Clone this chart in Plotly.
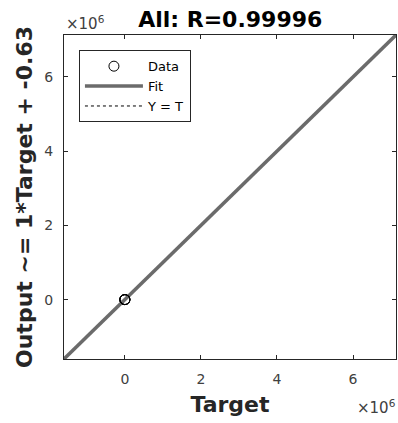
import plotly.graph_objects as go

# Network outputs against targets (all samples sit near the origin)
targets = [0.0, 1500.0, -800.0, 2600.0, 400.0]
outputs = [0.0, 1499.4, -800.6, 2599.4, 399.4]

# Linear fit Output ~= slope*Target + offset
fit_slope = 1.0
fit_offset = -0.63
r_value = 0.99996

# Shared axis limits for target and output
axis_lim = [-1.6e6, 7.13e6]
tick_vals = [0, 2e6, 4e6, 6e6]
tick_text = ["0", "2", "4", "6"]

FONT = "DejaVu Sans"
TXT = "#262626"
TICK_TXT = "#404040"
LINE_GRAY = "#6b6b6b"

fit_x = axis_lim
fit_y = [fit_slope * v + fit_offset for v in fit_x]

fig = go.Figure()

fig.add_trace(go.Scatter(
    x=axis_lim, y=axis_lim, mode="lines", name="Y = T",
    line=dict(color="black", width=1, dash="dot"), legendrank=3,
))
fig.add_trace(go.Scatter(
    x=fit_x, y=fit_y, mode="lines", name="Fit",
    line=dict(color=LINE_GRAY, width=3.5), legendrank=2,
))
fig.add_trace(go.Scatter(
    x=targets, y=outputs, mode="markers", name="Data",
    marker=dict(symbol="circle-open", size=10, color="black",
                line=dict(width=1, color="black")),
    legendrank=1,
))

axis_common = dict(
    range=axis_lim, tickvals=tick_vals, ticktext=tick_text,
    ticks="inside", ticklen=4, tickcolor=TXT, tickwidth=1,
    showline=True, linecolor=TXT, linewidth=1, mirror="ticks",
    showgrid=False, zeroline=False, ticklabelstandoff=7,
    tickfont=dict(family=FONT, size=14, color=TICK_TXT),
)

fig.update_layout(
    width=398, height=423,
    margin=dict(l=64, r=2, t=35, b=64),
    plot_bgcolor="white", paper_bgcolor="white",
    showlegend=True,
    title=dict(text=f"<b>All: R={r_value}</b>", x=0.5785, xanchor="center",
               y=0.955, yanchor="middle",
               font=dict(family=FONT, size=22, color="black")),
    xaxis=dict(**axis_common,
               title=dict(text="<b>Target</b>", standoff=10,
                          font=dict(family=FONT, size=22, color=TXT))),
    yaxis=dict(**axis_common,
               title=dict(text=f"<b>Output ~= {fit_slope:g}*Target + {fit_offset:g}</b>",
                          standoff=5,
                          font=dict(family=FONT, size=22, color=TXT))),
    legend=dict(
        x=0.045, y=0.953, xanchor="left", yanchor="top",
        bgcolor="white", bordercolor=TXT, borderwidth=1,
        font=dict(family=FONT, size=13, color="black"),
        itemwidth=58, tracegroupgap=0,
    ),
    annotations=[
        dict(text="×10<sup>6</sup>", xref="paper", yref="paper", x=0.0, y=1.0,
             xanchor="left", yanchor="bottom", showarrow=False, yshift=0,
             font=dict(family=FONT, size=15, color=TICK_TXT)),
        dict(text="×10<sup>6</sup>", xref="paper", yref="paper", x=1.0, y=0.0,
             xanchor="right", yanchor="top", showarrow=False, yshift=-36,
             xshift=2,
             font=dict(family=FONT, size=15, color=TICK_TXT)),
    ],
)

fig.write_html("out.html")
